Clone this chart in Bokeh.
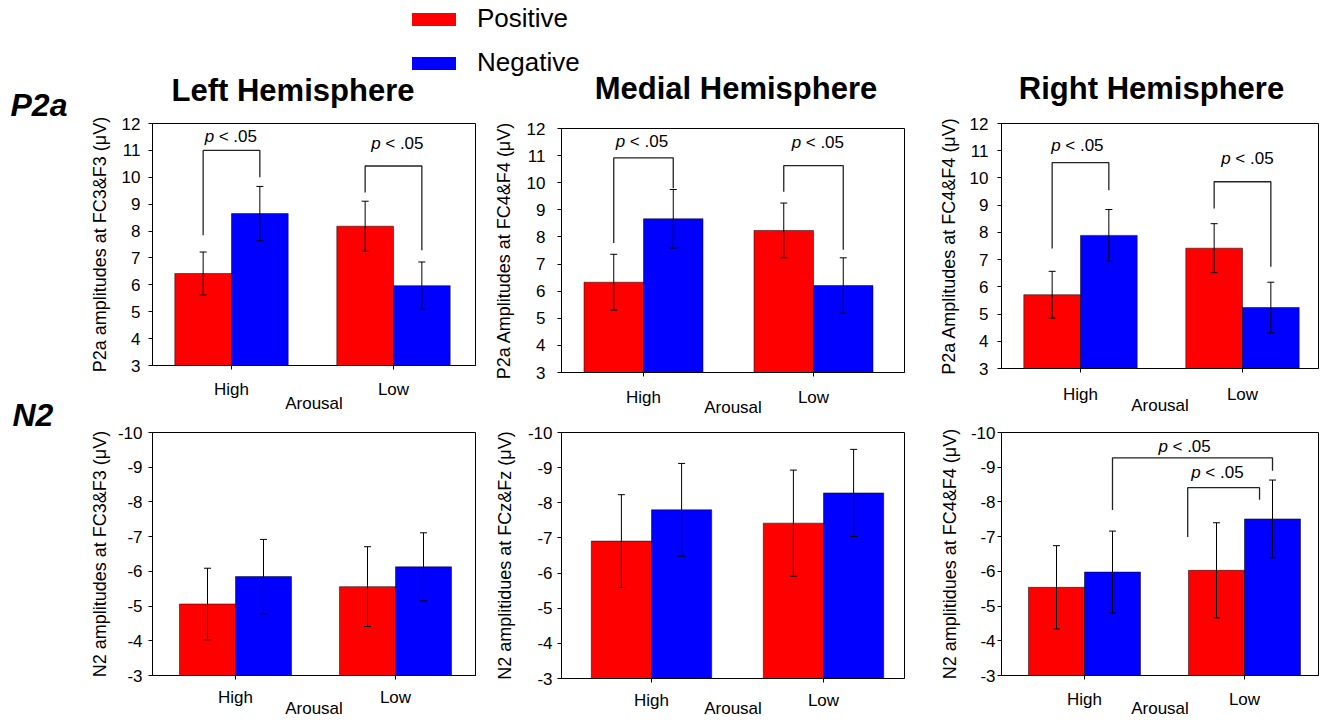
from bokeh.plotting import figure
from bokeh.models import (Range1d, FixedTicker, ColumnDataSource, Whisker, TeeHead,
                          Legend, LegendItem, Label)
from bokeh.layouts import row, column
from bokeh.core.properties import value
from bokeh.embed import file_html
from bokeh.resources import INLINE

FONT = "Liberation Sans"
RED = "#ff0000"
BLUE = "#0000ff"

# ---------------- data ----------------
categories = ["High", "Low"]
cat_x = [0.5, 1.5]
series = ["Positive", "Negative"]
x_title = "Arousal"
p2a_ticks = [3, 4, 5, 6, 7, 8, 9, 10, 11, 12]
n2_ticks = [-10, -9, -8, -7, -6, -5, -4, -3]

titles = ["Left Hemisphere", "Medial Hemisphere", "Right Hemisphere"]
row_names = ["P2a", "N2"]

ylabels = [
    "P2a amplitudes at FC3&F3 (\u03bcV)",
    "P2a Amplitudes at FC4&F4 (\u03bcV)",
    "P2a Amplitudes at FC4&F4 (\u03bcV)",
    "N2 amplitudes at FC3&F3 (\u03bcV)",
    "N2 amplitidues at FCz&Fz (\u03bcV)",
    "N2 amplitidues at FC4&F4 (\u03bcV)",
]

# P2a (means, SE) for [High, Low]
p2a_left_pos = [6.42, 8.18]
p2a_left_neg = [8.65, 5.97]
p2a_left_pos_err = [0.80, 0.93]
p2a_left_neg_err = [1.01, 0.88]

p2a_medial_pos = [6.33, 8.24]
p2a_medial_neg = [8.67, 6.21]
p2a_medial_pos_err = [1.03, 1.01]
p2a_medial_neg_err = [1.08, 1.02]

p2a_right_pos = [5.71, 7.42]
p2a_right_neg = [7.89, 5.24]
p2a_right_pos_err = [0.86, 0.90]
p2a_right_neg_err = [0.95, 0.93]

# N2
n2_left_pos = [-5.06, -5.56]
n2_left_neg = [-5.85, -6.13]
n2_left_pos_err = [1.03, 1.15]
n2_left_neg_err = [1.07, 0.98]

n2_medial_pos = [-6.91, -7.42]
n2_medial_neg = [-7.80, -8.28]
n2_medial_pos_err = [1.32, 1.51]
n2_medial_neg_err = [1.32, 1.24]

n2_right_pos = [-5.54, -6.03]
n2_right_neg = [-5.98, -7.51]
n2_right_pos_err = [1.20, 1.37]
n2_right_neg_err = [1.18, 1.12]

# significance brackets (data units)
p_italic = "p"
p_rest = "< .05"
p2a_left_br = dict(x_left=[0.325, 1.325], x_right=[0.675, 1.675],
                   y_left=[7.84, 9.43], y_top=[11.0, 10.42], y_right=[10.0, 7.29],
                   text_x=[0.495, 1.523], text_y=[11.5, 11.26])
p2a_medial_br = dict(x_left=[0.325, 1.325], x_right=[0.675, 1.675],
                     y_left=[7.78, 9.67], y_top=[10.92, 10.63], y_right=[9.8, 7.53],
                     text_x=[0.49, 1.525], text_y=[11.51, 11.5])
p2a_right_br = dict(x_left=[0.325, 1.325], x_right=[0.675, 1.675],
                    y_left=[7.41, 8.88], y_top=[10.56, 9.86], y_right=[9.55, 6.74],
                    text_x=[0.48, 1.53], text_y=[11.2, 10.71])
n2_right_br = dict(x_left=[0.675, 1.145], x_right=[1.675, 1.594],
                   y_left=[-7.77, -6.99], y_top=[-9.27, -8.41], y_right=[-8.9, -8.06],
                   text_x=[1.125, 1.33], text_y=[-9.6, -8.84])

# ---------------- layout (pixels) ----------------
BAR_W = 0.35
TOP_H = 112
LEFT_W = 86
TOTAL_W = 1324
TOTAL_H = 720
COL_LEFT = [86, 486, 923]
LABEL_SHIFT = 12.5   # alphabetic-baseline correction for large labels

cfgs = [
    dict(col=0, w=400, h=307, l=66, r=11, t=11, b=54, cpx=(231, 393), ys=8, ya=9, xs=10, xa=-8),
    dict(col=1, w=437, h=307, l=75, r=19, t=16, b=46, cpx=(643, 813), ys=12, ya=10, xs=11, xa=-12),
    dict(col=2, w=401, h=307, l=78, r=6, t=11, b=51, cpx=(1080, 1242), ys=9, ya=8, xs=12, xa=-11),
    dict(col=0, w=400, h=301, l=66, r=11, t=13, b=44, cpx=(235, 395), ys=6, ya=5, xs=8, xa=-11),
    dict(col=1, w=437, h=301, l=75, r=19, t=13, b=41, cpx=(651, 823), ys=5, ya=10, xs=8, xa=-14),
    dict(col=2, w=401, h=301, l=78, r=6, t=13, b=44, cpx=(1084, 1244), ys=2, ya=8, xs=10, xa=-13),
]
# title centres / baselines (page pixels)
title_cx = [292.5, 735.5, 1151]
title_base = [102.5, 100, 100]


def x_range_for(cfg):
    frame_left = COL_LEFT[cfg["col"]] + cfg["l"]
    frame_w = cfg["w"] - cfg["l"] - cfg["r"]
    c1, c2 = cfg["cpx"]
    k = (c2 - c1) / (cat_x[1] - cat_x[0])
    start = cat_x[0] - (c1 - frame_left) / k
    return Range1d(start, start + frame_w / k)


def make_panel(cfg, pos, neg, pos_err, neg_err, y_start, y_end, yticks, ylabel,
               brackets=None):
    p = figure(width=cfg["w"], height=cfg["h"],
               x_range=x_range_for(cfg), y_range=Range1d(y_start, y_end),
               output_backend="svg", toolbar_location=None,
               min_border_left=cfg["l"], min_border_right=cfg["r"],
               min_border_top=cfg["t"], min_border_bottom=cfg["b"])
    p.background_fill_color = "white"
    p.border_fill_color = "white"
    p.outline_line_color = "black"
    p.outline_line_width = 1
    p.xgrid.visible = False
    p.ygrid.visible = False

    base = y_start
    for offs, vals, errs, color in ((-BAR_W / 2, pos, pos_err, RED),
                                     (BAR_W / 2, neg, neg_err, BLUE)):
        xs = [c + offs for c in cat_x]
        src = ColumnDataSource(dict(
            x=xs, top=vals,
            upper=[v + e for v, e in zip(vals, errs)],
            lower=[v - e for v, e in zip(vals, errs)]))
        p.vbar(x="x", top="top", bottom=base, width=BAR_W, source=src,
               fill_color=color, line_color="black", line_width=0.5)
        p.add_layout(Whisker(source=src, base="x", upper="upper", lower="lower",
                             line_color="black", line_width=1, level="overlay",
                             upper_head=TeeHead(size=7, line_color="black", line_width=1),
                             lower_head=TeeHead(size=7, line_color="black", line_width=1)))

    if brackets is not None:
        bx = [[a, a, b, b] for a, b in zip(brackets["x_left"], brackets["x_right"])]
        by = [[yl, yt, yt, yr] for yl, yt, yr in zip(brackets["y_left"], brackets["y_top"],
                                                     brackets["y_right"])]
        p.multi_line(xs=bx, ys=by, line_color="#222222", line_width=1.3)
        n = len(brackets["text_x"])
        tsrc = ColumnDataSource(dict(x=brackets["text_x"], y=brackets["text_y"],
                                     p=[p_italic] * n, rest=[p_rest] * n))
        p.text(x="x", y="y", text="p", source=tsrc, text_font=value(FONT),
               text_font_style="italic", text_font_size="17px", text_color="black",
               text_align="left", text_baseline="middle", x_offset=-26)
        p.text(x="x", y="y", text="rest", source=tsrc, text_font=value(FONT),
               text_font_size="17px", text_color="black",
               text_align="left", text_baseline="middle", x_offset=-12)

    xa = p.xaxis[0]
    xa.ticker = FixedTicker(ticks=cat_x)
    xa.major_label_overrides = dict(zip(cat_x, categories))
    xa.axis_label = x_title
    xa.major_label_standoff = cfg["xs"]
    xa.axis_label_standoff = cfg["xa"]
    ya = p.yaxis[0]
    ya.ticker = FixedTicker(ticks=yticks)
    ya.major_label_overrides = {t: str(t) for t in yticks}
    ya.axis_label = ylabel
    ya.major_label_standoff = cfg["ys"]
    ya.axis_label_standoff = cfg["ya"]
    xa.major_label_text_font_size = "17px"
    ya.major_label_text_font_size = "17px"
    for ax in (xa, ya):
        ax.major_label_text_font = FONT
        ax.major_label_text_color = "black"
        ax.axis_label_text_font = FONT
        ax.axis_label_text_font_style = "normal"
        ax.axis_label_text_color = "black"
        ax.minor_tick_line_color = None
        ax.major_tick_out = 4
        ax.major_tick_in = 0
        ax.major_tick_line_color = "black"
        ax.axis_line_color = "black"
    xa.axis_label_text_font_size = "17px"
    ya.axis_label_text_font_size = "18px"
    return p


f1 = make_panel(cfgs[0], p2a_left_pos, p2a_left_neg, p2a_left_pos_err, p2a_left_neg_err,
                3, 12, p2a_ticks, ylabels[0], p2a_left_br)
f2 = make_panel(cfgs[1], p2a_medial_pos, p2a_medial_neg, p2a_medial_pos_err, p2a_medial_neg_err,
                3, 12, p2a_ticks, ylabels[1], p2a_medial_br)
f3 = make_panel(cfgs[2], p2a_right_pos, p2a_right_neg, p2a_right_pos_err, p2a_right_neg_err,
                3, 12, p2a_ticks, ylabels[2], p2a_right_br)
f4 = make_panel(cfgs[3], n2_left_pos, n2_left_neg, n2_left_pos_err, n2_left_neg_err,
                -3, -10, n2_ticks, ylabels[3])
f5 = make_panel(cfgs[4], n2_medial_pos, n2_medial_neg, n2_medial_pos_err, n2_medial_neg_err,
                -3, -10, n2_ticks, ylabels[4])
f6 = make_panel(cfgs[5], n2_right_pos, n2_right_neg, n2_right_pos_err, n2_right_neg_err,
                -3, -10, n2_ticks, ylabels[5], n2_right_br)

# ---------- top strip: legend + column titles ----------
top = figure(width=TOTAL_W - LEFT_W, height=TOP_H, x_range=Range1d(0, 1), y_range=Range1d(0, 1),
             output_backend="svg", toolbar_location=None, min_border=0,
             x_axis_location=None, y_axis_location=None)
top.outline_line_color = None
top.xgrid.visible = False
top.ygrid.visible = False
r_pos = top.vbar(x=[5], top=[1], bottom=[0], width=0.1, fill_color=RED, line_color=None)
r_neg = top.vbar(x=[6], top=[1], bottom=[0], width=0.1, fill_color=BLUE, line_color=None)
legend = Legend(items=[LegendItem(label=series[0], renderers=[r_pos]),
                       LegendItem(label=series[1], renderers=[r_neg])],
                location=(320, TOP_H - 78), padding=0, margin=0, spacing=13,
                glyph_width=55, glyph_height=16, label_standoff=16,
                label_text_font=FONT, label_text_font_size="26px",
                label_text_color="black", border_line_color=None,
                background_fill_alpha=0)
top.add_layout(legend)
for txt, cx, bl in zip(titles, title_cx, title_base):
    top.add_layout(Label(x=cx - LEFT_W, y=TOP_H - bl + LABEL_SHIFT,
                         x_units="screen", y_units="screen",
                         text=txt, text_font=FONT, text_font_size="31px",
                         text_font_style="bold", text_color="black",
                         text_align="center", text_baseline="alphabetic"))

# ---------- left strip with row names ----------
left = figure(width=LEFT_W, height=TOTAL_H, x_range=Range1d(0, 1), y_range=Range1d(0, 1),
              output_backend="svg", toolbar_location=None, min_border=0,
              x_axis_location=None, y_axis_location=None)
left.outline_line_color = None
left.xgrid.visible = False
left.ygrid.visible = False
for txt, base_y, xx in ((row_names[0], 117, 10), (row_names[1], 427, 12)):
    left.add_layout(Label(x=xx, y=TOTAL_H - base_y + LABEL_SHIFT + 0.5,
                          x_units="screen", y_units="screen", text=txt,
                          text_font=FONT, text_font_size="32px", text_font_style="bold italic",
                          text_color="black", text_baseline="alphabetic", text_align="left"))

grid = row(column(f1, f4), column(f2, f5), column(f3, f6))
layout = row(left, column(top, grid))

open("out.html", "w").write(file_html(layout, INLINE))
